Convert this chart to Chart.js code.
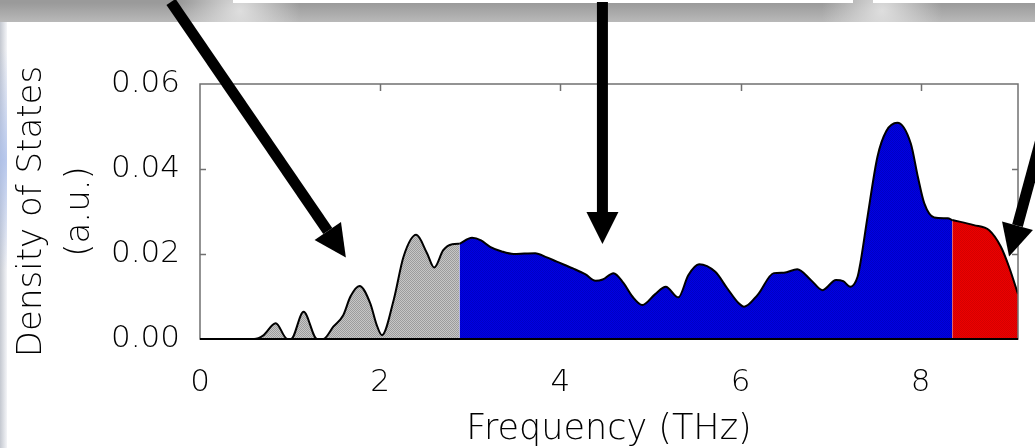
<!DOCTYPE html>
<html>
<head>
<meta charset="utf-8">
<script src="https://cdn.jsdelivr.net/npm/chart.js@4.4.0/dist/chart.umd.min.js"></script>
<style>
html,body{margin:0;padding:0;background:#fff}
#wrap{width:1035px;height:448px}
</style>
</head>
<body>
<div id="wrap"><canvas id="dosChart" width="1035" height="448"></canvas></div>
<script>
// frequency (THz) / density of states
const grayFreq=[0,0.30,0.60,0.70,0.84,0.97,1.01,1.15,1.30,1.37,1.48,1.59,1.67,1.77,1.89,1.96,2.02,2.15,2.26,2.40,2.52,2.60,2.70,2.80,2.88];
const grayDos =[0,0,0,0.0008,0.0037,0,0,0.0064,0,0,0.0029,0.0056,0.0100,0.0125,0.0084,0.0034,0.0009,0.0092,0.0194,0.0245,0.0202,0.0168,0.0209,0.0223,0.0224];
const blueFreq=[2.88,3.02,3.12,3.22,3.35,3.48,3.60,3.72,3.85,3.96,4.14,4.28,4.39,4.47,4.59,4.70,4.80,4.91,5.05,5.17,5.31,5.42,5.54,5.72,5.85,5.98,6.04,6.19,6.37,6.48,6.63,6.78,6.91,7.06,7.14,7.22,7.30,7.33,7.41,7.52,7.62,7.74,7.89,7.97,8.04,8.15,8.30,8.35];
const blueDos =[0.0224,0.0238,0.0232,0.0217,0.0206,0.0200,0.0201,0.0202,0.0192,0.0182,0.0166,0.0152,0.0137,0.0140,0.0155,0.0132,0.0100,0.0080,0.0105,0.0123,0.0098,0.0150,0.0176,0.0158,0.0120,0.0084,0.0076,0.0104,0.0155,0.0156,0.0164,0.0139,0.0115,0.0139,0.0136,0.0123,0.0147,0.0178,0.0288,0.0429,0.0490,0.0509,0.0460,0.0380,0.0319,0.0286,0.0284,0.0280];
const redFreq=[8.35,8.59,8.76,8.89,8.98,9.08];
const redDos =[0.0280,0.0268,0.0256,0.0217,0.0170,0.0106];
const xTicks=[0,2,4,6,8];
const yTicks=[0,0.02,0.04,0.06];
// arrows: [tailX, tailY, tipX, tipY] in data units
const arrows=[[-0.322,0.0793,1.619,0.0192],[4.467,0.0793,4.467,0.02235],[9.333,0.0468,8.981,0.0194]];

const FONT='"DejaVu Sans", sans-serif';

function checker(a,b){
  const c=document.createElement('canvas');c.width=2;c.height=2;
  const g=c.getContext('2d');
  g.fillStyle=a;g.fillRect(0,0,2,2);
  g.fillStyle=b;g.fillRect(0,0,1,1);g.fillRect(1,1,1,1);
  return g.createPattern(c,'repeat');
}
function pts(xs,ys){return xs.map((x,i)=>({x:x,y:ys[i]}));}
function series(xs,ys,fill){
  return {data:pts(xs,ys),backgroundColor:fill,borderColor:'#000',borderWidth:2,fill:'origin',
    pointRadius:0,cubicInterpolationMode:'monotone'};
}

const backdrop={
  id:'backdrop',
  beforeDraw(c){
    const ctx=c.ctx;
    ctx.save();
    ctx.fillStyle='#fff';ctx.fillRect(0,0,c.width,c.height);
    // grey band at the top
    let g=ctx.createLinearGradient(0,3,0,22);
    g.addColorStop(0,'#9a9a9a');g.addColorStop(1,'#b9b9b9');
    ctx.fillStyle=g;ctx.fillRect(0,0,c.width,22);
    [[240,11],[882,11]].forEach(p=>{
      const r=ctx.createRadialGradient(p[0],p[1],0,p[0],p[1],60);
      r.addColorStop(0,'rgba(225,225,225,0.95)');r.addColorStop(1,'rgba(225,225,225,0)');
      ctx.fillStyle=r;ctx.fillRect(p[0]-60,0,120,22);
    });
    ctx.fillStyle='#fff';ctx.fillRect(233,0,620,3);ctx.fillRect(873,0,162,3);
    // pale strip on the left
    g=ctx.createLinearGradient(0,0,7,0);
    g.addColorStop(0,'#c4c8d0');g.addColorStop(1,'#f4f5f8');
    ctx.fillStyle=g;ctx.fillRect(0,22,7,c.height-22);
    const b=ctx.createRadialGradient(3,160,0,3,160,110);
    b.addColorStop(0,'rgba(170,190,235,0.8)');b.addColorStop(1,'rgba(170,190,235,0)');
    ctx.fillStyle=b;ctx.fillRect(0,50,7,220);
    ctx.restore();
  },
  afterDatasetsDraw(c){
    const ctx=c.ctx,a=c.chartArea,xs=c.scales.x,ys=c.scales.y;
    ctx.save();
    ctx.strokeStyle='#707070';ctx.lineWidth=1.5;
    ctx.strokeRect(a.left,a.top,a.right-a.left,a.bottom-a.top);
    ctx.beginPath();
    yTicks.slice(1,-1).forEach(v=>{
      const y=Math.round(ys.getPixelForValue(v))+0.5;
      ctx.moveTo(a.left,y);ctx.lineTo(a.left+6,y);
      ctx.moveTo(a.right,y);ctx.lineTo(a.right-6,y);
    });
    xTicks.slice(1).forEach(v=>{
      const x=Math.round(xs.getPixelForValue(v))+0.5;
      ctx.moveTo(x,a.top);ctx.lineTo(x,a.top+7);
    });
    ctx.stroke();
    ctx.strokeStyle='#000';ctx.lineWidth=2;
    ctx.beginPath();ctx.moveTo(a.left,a.bottom);ctx.lineTo(a.right,a.bottom);ctx.stroke();
    ctx.restore();
  },
  afterDraw(c){
    const ctx=c.ctx,xs=c.scales.x,ys=c.scales.y;
    ctx.save();
    ctx.fillStyle='#000';ctx.strokeStyle='#000';
    arrows.forEach(ar=>{
      const x0=xs.getPixelForValue(ar[0]),y0=ys.getPixelForValue(ar[1]);
      const x1=xs.getPixelForValue(ar[2]),y1=ys.getPixelForValue(ar[3]);
      const ang=Math.atan2(y1-y0,x1-x0),hl=32,hw=16;
      const bx=x1-hl*Math.cos(ang),by=y1-hl*Math.sin(ang);
      ctx.lineWidth=11;
      ctx.beginPath();ctx.moveTo(x0,y0);ctx.lineTo(bx,by);ctx.stroke();
      ctx.beginPath();
      ctx.moveTo(x1,y1);
      ctx.lineTo(bx+hw*Math.sin(ang),by-hw*Math.cos(ang));
      ctx.lineTo(bx-hw*Math.sin(ang),by+hw*Math.cos(ang));
      ctx.closePath();ctx.fill();
    });
    ctx.restore();
  }
};

new Chart(document.getElementById('dosChart'),{
  type:'line',
  data:{datasets:[
    series(grayFreq,grayDos,checker('#c6c6c6','#9c9c9c')),
    series(blueFreq,blueDos,checker('#0000e4','#0000c4')),
    series(redFreq,redDos,checker('#ec0000','#d40000'))
  ]},
  options:{
    responsive:false,animation:false,devicePixelRatio:1,
    layout:{padding:{top:84,right:17,left:0,bottom:0}},
    plugins:{legend:{display:false},tooltip:{enabled:false}},
    scales:{
      x:{type:'linear',min:0,max:9.08,
        afterBuildTicks(s){s.ticks=xTicks.map(v=>({value:v}));},
        afterFit(s){s.height=109;},
        grid:{display:false,drawTicks:false},border:{display:false},
        ticks:{padding:25,color:'#000',font:{family:FONT,size:31,weight:200,lineHeight:1.2},callback:v=>String(v)},
        title:{display:true,text:'Frequency (THz)',color:'#000',padding:{top:0,bottom:0},
          font:{family:FONT,size:35,weight:200,lineHeight:1.03}}
      },
      y:{min:0,max:0.06,
        afterBuildTicks(s){s.ticks=yTicks.map(v=>({value:v}));},
        afterFit(s){s.width=200;},
        grid:{display:false,drawTicks:false},border:{display:false},
        ticks:{padding:20,color:'#000',font:{family:FONT,size:31,weight:200},callback:v=>v.toFixed(2)},
        title:{display:true,text:['Density of States','(a.u.)'],color:'#000',padding:{top:8,bottom:0},
          font:{family:FONT,size:34,weight:200,lineHeight:1.41}}
      }
    }
  },
  plugins:[backdrop]
});
</script>
</body>
</html>
